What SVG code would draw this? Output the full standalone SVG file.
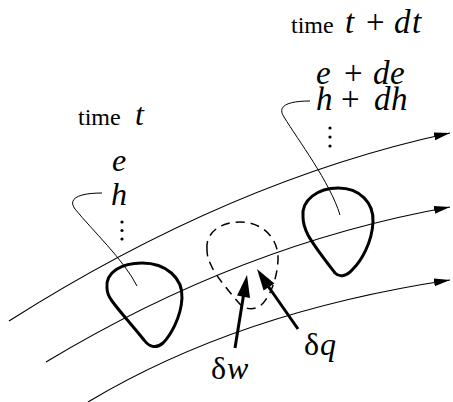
<svg xmlns="http://www.w3.org/2000/svg" width="453" height="402" viewBox="0 0 453 402">
<style>
.stream{fill:none;stroke:#000;stroke-width:1.2}
.leader{fill:none;stroke:#000;stroke-width:1}
.blob{fill:none;stroke:#000;stroke-width:3;stroke-linejoin:round}
.dash{fill:none;stroke:#000;stroke-width:1.5;stroke-dasharray:9,6}
.thick{fill:none;stroke:#000;stroke-width:3}
.head{fill:#000;stroke:none}
.dot{fill:#000}
</style>
<defs>
<marker id="arr" markerUnits="userSpaceOnUse" markerWidth="17" markerHeight="9" refX="16" refY="4" orient="auto">
<path d="M0,0 L16,4 L0,8 Z" fill="#000"/>
</marker>
</defs>

<g id="connectors">
<path class="stream" d="M9,321 Q231,180 450,133" marker-end="url(#arr)"/>
<path class="stream" d="M46,362 Q242,244 450,207" marker-end="url(#arr)"/>
<path class="stream" d="M88,402 Q238,312 450,280" marker-end="url(#arr)"/>
<path class="leader" d="M102,193 C80,193 67,198 75,209 C92,230 124,260 137,286"/>
<path class="leader" d="M310,101 C290,101 276,105 284,117 C298,140 330,182 340,215"/>
<path class="thick" d="M235,348 L243.4,296"/>
<polygon class="head" points="247,275 250,298 237,295.6"/>
<path class="thick" d="M298,329 L268,286"/>
<polygon class="head" points="257,269 274.4,283.4 263.6,290.6"/>
</g>

<g id="state-t" font-family="Liberation Serif, Times New Roman, serif" fill="#000">
<path class="blob" d="M107,288 C105,272 122,263 142,263 C166,263 183,278 182,298 C181,318 170,336 163,343 C156,349 149,347 144,340 C132,325 120,312 112,301 C109,297 107,293 107,288 Z"/>
<text x="78" y="125" font-size="24">time</text>
<text x="135" y="125" font-size="32" font-style="italic">t</text>
<text x="112" y="171" font-size="32" font-style="italic">e</text>
<text x="111" y="205" font-size="32" font-style="italic">h</text>
<circle class="dot" cx="122" cy="222" r="1.6"/>
<circle class="dot" cx="122" cy="230.5" r="1.6"/>
<circle class="dot" cx="122" cy="239" r="1.6"/>
</g>

<g id="state-t-dt" font-family="Liberation Serif, Times New Roman, serif" fill="#000">
<path class="blob" d="M303,217 C301,200 318,188 338,188 C360,188 374,203 373,222 C372,243 361,261 353,269 C347,276 340,278 335,273 C325,260 314,246 308,235 C305,229 303,223 303,217 Z"/>
<text x="291" y="33" font-size="24">time</text>
<text y="33" font-size="33" font-style="italic"><tspan x="345">t</tspan><tspan x="366" font-style="normal">+</tspan><tspan x="394">d</tspan><tspan x="412">t</tspan></text>
<text y="84" font-size="33" font-style="italic"><tspan x="316">e</tspan><tspan x="344" font-style="normal">+</tspan><tspan x="373">d</tspan><tspan x="390">e</tspan></text>
<text y="110" font-size="33" font-style="italic"><tspan x="316">h</tspan><tspan x="341" font-style="normal">+</tspan><tspan x="374">d</tspan><tspan x="391">h</tspan></text>
<circle class="dot" cx="330" cy="128" r="1.6"/>
<circle class="dot" cx="330" cy="137" r="1.6"/>
<circle class="dot" cx="330" cy="146" r="1.6"/>
</g>

<g id="control-mass">
<path class="dash" d="M207,250 C205,233 220,222 240,222 C262,222 279,238 278,260 C277,282 268,300 260,306 C252,311 244,309 238,302 C228,290 215,275 211,265 C208,259 207,255 207,250 Z"/>
</g>

<g id="label-dw" font-family="Liberation Serif, Times New Roman, serif" font-size="32" fill="#000">
<text y="379"><tspan x="211">δ</tspan><tspan x="227" font-style="italic">w</tspan></text>
</g>
<g id="label-dq" font-family="Liberation Serif, Times New Roman, serif" font-size="32" fill="#000">
<text y="355"><tspan x="304">δ</tspan><tspan x="320" font-style="italic">q</tspan></text>
</g>
</svg>
